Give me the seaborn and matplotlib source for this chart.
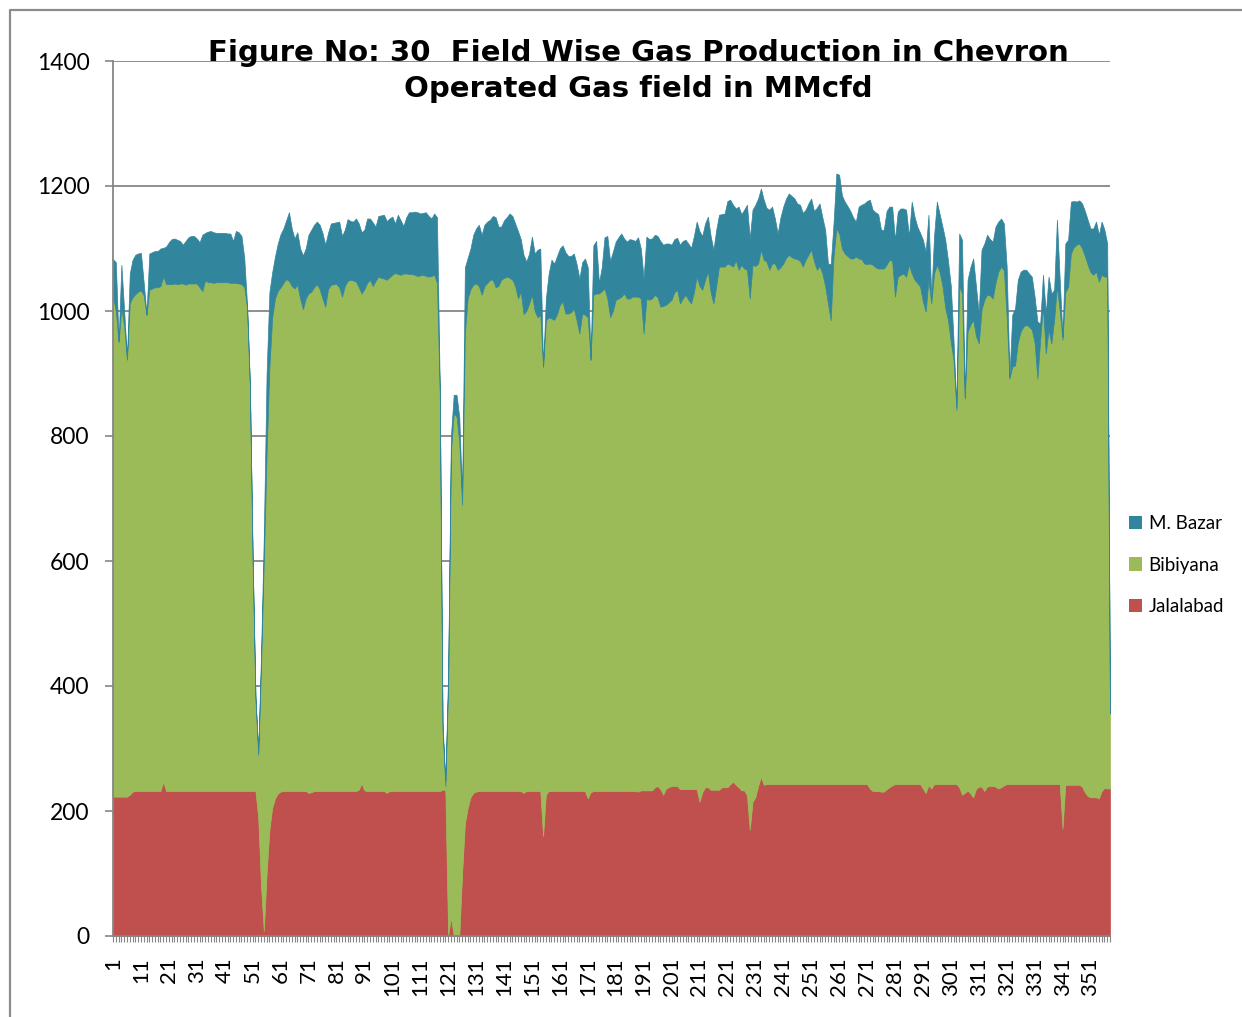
import matplotlib
matplotlib.use("Agg")
import matplotlib.pyplot as plt
import seaborn as sns
from matplotlib.patches import Patch
from matplotlib.lines import Line2D

# ---------------- data ----------------
days = list(range(1, 359))
series_names = ["Jalalabad", "Bibiyana", "M. Bazar"]
colors = ["#C0504D", "#9BBB59", "#31859C"]

jalalabad = [
    223, 223, 223, 223, 223, 223, 226, 231, 232, 232,
    232, 232, 232, 232, 232, 232, 232, 232, 247, 232,
    232, 232, 232, 232, 232, 232, 232, 232, 232, 232,
    232, 232, 232, 232, 232, 232, 232, 232, 232, 232,
    232, 232, 232, 232, 232, 232, 232, 232, 232, 232,
    232, 232, 190, 80, 8, 100, 170, 205, 220, 228,
    231, 232, 232, 232, 232, 232, 232, 232, 232, 232,
    229, 230, 232, 232, 232, 232, 232, 232, 232, 232,
    232, 232, 232, 232, 232, 232, 232, 232, 234, 244,
    233, 232, 232, 232, 232, 232, 232, 232, 229, 232,
    232, 232, 232, 232, 232, 232, 232, 232, 232, 232,
    232, 232, 232, 232, 232, 232, 232, 232, 234, 234,
    0, 30, 0, 0, 0, 100, 180, 205, 222, 229,
    231, 232, 232, 232, 232, 232, 232, 232, 232, 232,
    232, 232, 232, 232, 232, 232, 232, 229, 232, 232,
    232, 232, 232, 232, 160, 226, 232, 232, 232, 232,
    232, 232, 232, 232, 232, 232, 232, 232, 232, 232,
    220, 230, 232, 232, 232, 232, 232, 232, 232, 232,
    232, 232, 232, 232, 232, 232, 232, 232, 231, 233,
    233, 233, 233, 233, 238, 240, 235, 226, 236, 238,
    240, 240, 240, 235, 235, 235, 235, 235, 235, 235,
    215, 230, 238, 238, 234, 234, 234, 234, 238, 238,
    238, 243, 247, 242, 238, 233, 233, 225, 170, 215,
    222, 240, 255, 242, 243, 243, 243, 243, 243, 243,
    243, 243, 243, 243, 243, 243, 243, 243, 243, 243,
    243, 243, 243, 243, 243, 243, 243, 243, 243, 243,
    243, 243, 243, 243, 243, 243, 243, 243, 243, 243,
    243, 236, 232, 232, 232, 231, 231, 235, 238, 241,
    243, 243, 243, 243, 243, 243, 243, 243, 243, 243,
    236, 229, 241, 236, 243, 243, 243, 243, 243, 243,
    243, 243, 243, 238, 226, 229, 233, 228, 222, 235,
    239, 239, 232, 239, 240, 240, 239, 236, 238, 241,
    243, 243, 243, 243, 243, 243, 243, 243, 243, 243,
    243, 243, 243, 243, 243, 243, 243, 243, 243, 243,
    172, 242, 242, 242, 242, 242, 242, 239, 230, 224,
    222, 222, 222, 220, 232, 237, 236, 236]

bibiyana = [
    800, 777, 727, 782, 752, 699, 786, 791, 795, 799,
    801, 793, 761, 802, 804, 806, 806, 808, 808, 811,
    811, 811, 812, 811, 812, 812, 810, 812, 812, 812,
    812, 806, 800, 817, 814, 814, 813, 814, 814, 814,
    814, 814, 813, 813, 813, 812, 811, 806, 773, 648,
    368, 148, 100, 350, 592, 670, 740, 785, 800, 804,
    807, 813, 819, 816, 808, 804, 810, 788, 771, 788,
    799, 801, 806, 811, 803, 788, 775, 803, 810, 811,
    811, 806, 791, 808, 816, 818, 817, 815, 804, 784,
    802, 813, 818, 808, 816, 823, 821, 820, 821, 822,
    826, 829, 827, 826, 828, 828, 827, 827, 826, 824,
    825, 826, 824, 823, 824, 826, 813, 638, 96, 6,
    400, 745, 836, 831, 790, 590, 784, 815, 813, 813,
    813, 808, 794, 808, 813, 818, 818, 806, 808, 818,
    821, 823, 821, 818, 808, 788, 799, 766, 768, 780,
    794, 768, 758, 762, 751, 759, 758, 756, 754, 763,
    778, 783, 764, 764, 766, 772, 753, 732, 764, 762,
    770, 692, 794, 796, 796, 800, 804, 788, 758, 768,
    786, 788, 791, 796, 788, 788, 791, 791, 792, 787,
    731, 787, 785, 787, 788, 782, 772, 782, 774, 776,
    778, 790, 794, 777, 785, 791, 783, 777, 795, 820,
    825, 804, 812, 825, 796, 778, 806, 837, 833, 833,
    838, 831, 824, 839, 828, 841, 835, 841, 850, 859,
    850, 836, 843, 840, 836, 823, 833, 833, 823, 827,
    833, 842, 847, 843, 841, 840, 837, 828, 839, 847,
    855, 837, 823, 829, 817, 797, 769, 742, 844, 889,
    881, 857, 849, 845, 841, 841, 844, 841, 840, 833,
    832, 840, 842, 838, 836, 837, 837, 839, 844, 839,
    780, 812, 815, 817, 812, 831, 817, 807, 802, 796,
    779, 770, 809, 776, 817, 831, 819, 797, 762, 742,
    707, 677, 599, 801, 802, 631, 734, 750, 764, 725,
    709, 763, 786, 787, 785, 780, 806, 827, 833, 824,
    748, 649, 668, 670, 707, 724, 732, 735, 732, 727,
    706, 649, 711, 764, 689, 727, 705, 743, 797, 757,
    782, 788, 797, 850, 860, 864, 866, 861, 858, 850,
    840, 836, 841, 827, 826, 818, 819, 120]

m_bazar = [
    60, 78, 2, 69, 25, 2, 48, 60, 63, 61,
    60, 20, 2, 58, 58, 58, 58, 60, 46, 60,
    67, 72, 72, 71, 68, 62, 70, 74, 76, 76,
    72, 72, 90, 76, 81, 82, 81, 79, 79, 79,
    79, 78, 79, 67, 83, 82, 77, 47, 5, 5,
    5, 5, 5, 20, 40, 130, 120, 72, 67, 76,
    85, 87, 94, 110, 92, 80, 84, 80, 86, 80,
    94, 99, 100, 100, 103, 105, 99, 90, 98, 98,
    99, 105, 97, 90, 99, 94, 94, 101, 102, 98,
    95, 103, 98, 102, 87, 97, 100, 102, 94, 94,
    93, 79, 95, 87, 76, 90, 99, 99, 101, 102,
    99, 99, 102, 97, 92, 98, 105, 10, 10, 8,
    20, 25, 30, 35, 40, 10, 106, 65, 65, 80,
    88, 98, 96, 98, 98, 96, 102, 112, 95, 85,
    92, 95, 103, 102, 100, 108, 84, 95, 79, 80,
    93, 92, 108, 106, 0, 35, 70, 94, 90, 93,
    90, 90, 98, 92, 90, 88, 90, 88, 82, 90,
    80, 0, 79, 84, 17, 38, 82, 100, 90, 95,
    93, 98, 101, 88, 91, 95, 91, 89, 95, 80,
    88, 99, 97, 96, 96, 98, 105, 98, 98, 94,
    88, 85, 83, 94, 92, 88, 90, 89, 90, 88,
    88, 86, 90, 88, 90, 86, 90, 83, 84, 85,
    100, 104, 99, 83, 101, 81, 94, 104, 96, 88,
    98, 104, 98, 96, 86, 96, 91, 72, 58, 80,
    91, 95, 98, 98, 96, 89, 90, 86, 80, 82,
    82, 80, 99, 100, 90, 90, 64, 90, 53, 88,
    94, 85, 83, 80, 76, 66, 56, 83, 87, 96,
    101, 102, 88, 88, 87, 62, 62, 86, 85, 87,
    91, 104, 106, 104, 107, 45, 115, 101, 90, 86,
    99, 96, 104, 11, 60, 101, 93, 95, 109, 95,
    90, 30, 5, 85, 86, 2, 83, 92, 98, 80,
    48, 96, 90, 96, 90, 91, 90, 80, 77, 75,
    80, 3, 83, 91, 100, 96, 91, 88, 85, 85,
    74, 91, 26, 51, 64, 85, 80, 48, 106, 50,
    5, 78, 75, 83, 74, 69, 69, 72, 72, 72,
    70, 74, 80, 75, 85, 75, 53, 0]

y_ticks = [0, 200, 400, 600, 800, 1000, 1200, 1400]
x_tick_labels = list(range(1, 352, 10))
title_line1 = "Figure No: 30  Field Wise Gas Production in Chevron"
title_line2 = "Operated Gas field in MMcfd"

# ---------------- style ----------------
sns.set_theme(style="white")
plt.rcParams['font.family'] = ['Lato', 'DejaVu Sans']

W, H = 1242, 1017
fig = plt.figure(figsize=(W / 100, H / 100), dpi=100)
fig.patch.set_facecolor("white")

# outer chart-area border (left & top edges visible)
fig.add_artist(Line2D([10 / W, 10 / W, 1.01], [-0.01, 1 - 10 / H, 1 - 10 / H],
                      transform=fig.transFigure, color="#8C8C8C", lw=1.6))

left, right, top, bottom = 113, 1110, 61, 936
ax = fig.add_axes([left / W, 1 - bottom / H, (right - left) / W, (bottom - top) / H])
ax.set_facecolor("white")

polys = ax.stackplot(days, jalalabad, bibiyana, m_bazar, colors=colors,
                     labels=series_names)
for p, c in zip(polys, colors):
    p.set_edgecolor(c)
    p.set_linewidth(0.5)

ax.set_xlim(1, 358)
ax.set_ylim(0, 1400)
ax.set_yticks(y_ticks)
ax.set_yticklabels([str(v) for v in y_ticks], fontsize=16.5, color="black")
ax.set_xticks(x_tick_labels)
ax.set_xticklabels([str(v) for v in x_tick_labels], rotation=90, fontsize=16,
                   color="black")
ax.set_xticks(days, minor=True)

grid_c = "#868686"
ax.set_axisbelow(True)
ax.yaxis.grid(True, color=grid_c, lw=1.3)
ax.xaxis.grid(False)
for s in ["top", "right"]:
    ax.spines[s].set_visible(False)
for s in ["left", "bottom"]:
    ax.spines[s].set_visible(True)
    ax.spines[s].set_color(grid_c)
    ax.spines[s].set_linewidth(1.3)

ax.tick_params(axis="y", which="major", direction="out", length=6, width=1.2,
               color=grid_c, pad=11, left=True)
ax.tick_params(axis="x", which="both", direction="out", length=4.3, width=0.8,
               color=grid_c, bottom=True)
ax.tick_params(axis="x", which="major", pad=11)

# title
tx = 638 / W
fig.text(tx, 1 - 61 / H, title_line1, ha="center", va="baseline", color="black",
         fontsize=21, fontweight="bold", family="DejaVu Sans")
fig.text(tx, 1 - 97 / H, title_line2, ha="center", va="baseline", color="black",
         fontsize=21, fontweight="bold", family="DejaVu Sans")

# legend
handles = [Patch(facecolor=colors[2], edgecolor="none"),
           Patch(facecolor=colors[1], edgecolor="none"),
           Patch(facecolor=colors[0], edgecolor="none")]
labels = [series_names[2], series_names[1], series_names[0]]
fig.legend(handles, labels, loc="center left",
           bbox_to_anchor=(1129 / W, 1 - 565 / H), frameon=False,
           fontsize=13.5, handlelength=0.7, handleheight=0.7,
           handletextpad=0.35, labelspacing=1.3, borderpad=0,
           borderaxespad=0, labelcolor="black")

fig.savefig("out.png", dpi=100, facecolor="white")
